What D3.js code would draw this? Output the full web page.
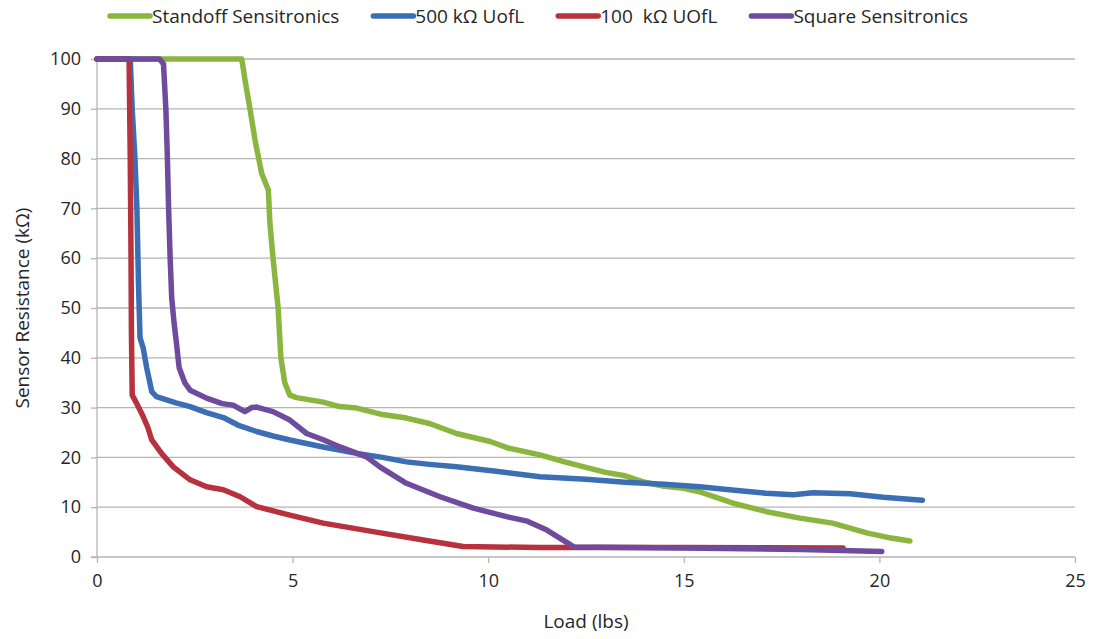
<!DOCTYPE html>
<html>
<head>
<meta charset="utf-8">
<script src="https://cdn.jsdelivr.net/npm/d3@7/dist/d3.min.js"></script>
<style>
  html, body { margin: 0; padding: 0; background: #fff; }
  svg { display: block; font-family: "Open Sans", "Noto Sans", sans-serif; }
  text { white-space: pre; }
</style>
</head>
<body>
<svg id="chart" width="1094" height="639"></svg>
<script>
// ---- data ----
const seriesNames = ["Standoff Sensitronics", "500 kΩ UofL", "100  kΩ UOfL", "Square Sensitronics"];
const seriesColors = ["#8ab53f", "#3c6eb4", "#b7323c", "#6f4b9e"];

const standoffX = [0, 3.7, 3.8, 3.91, 4.04, 4.21, 4.38, 4.42, 4.5, 4.63, 4.7, 4.8, 4.93, 5.1, 5.78, 6.2, 6.64, 7.3, 7.91, 8.5, 9.19, 10.05, 10.5, 11.32, 12, 12.5, 13, 13.5, 14, 14.5, 15, 15.4, 16.26, 17.12, 17.97, 18.8, 19.7, 20.3, 20.78];
const standoffY = [100, 100, 95, 90, 83.7, 77, 73.7, 67, 60, 50, 40, 35, 32.5, 32, 31.1, 30.2, 29.9, 28.6, 27.9, 26.8, 24.8, 23.2, 21.9, 20.5, 19, 18, 17, 16.3, 15, 14.2, 13.8, 13.1, 10.8, 9.1, 7.8, 6.8, 4.8, 3.8, 3.2];

const uofl500X = [0, 0.85, 0.9, 0.97, 1.02, 1.06, 1.1, 1.18, 1.27, 1.4, 1.52, 2.0, 2.38, 2.8, 3.23, 3.6, 4.08, 4.5, 4.93, 5.78, 6.64, 7.3, 7.91, 8.5, 9.19, 10.2, 11.32, 12.5, 13.5, 14.5, 15.4, 16.3, 17.1, 17.8, 18.3, 19.25, 20.1, 21.1];
const uofl500Y = [100, 100, 90, 80, 70, 55, 44, 42, 38, 33.2, 32.2, 31, 30.2, 29, 28, 26.5, 25.2, 24.3, 23.5, 22.1, 20.8, 20, 19.1, 18.6, 18.1, 17.2, 16.1, 15.6, 15, 14.6, 14.1, 13.4, 12.8, 12.5, 12.9, 12.7, 12, 11.4];

const uofl100X = [0, 0.82, 0.85, 0.87, 0.88, 0.9, 1.01, 1.18, 1.3, 1.4, 1.65, 1.95, 2.38, 2.8, 3.23, 3.66, 4.08, 4.93, 5.78, 7.06, 8.34, 9.36, 11.32, 15, 19.07];
const uofl100Y = [100, 100, 80, 60, 45, 32.5, 30.9, 28.2, 26, 23.5, 20.8, 18.1, 15.5, 14.1, 13.5, 12.1, 10.1, 8.4, 6.8, 5.1, 3.4, 2.1, 1.9, 1.9, 1.8];

const squareX = [0, 1.6, 1.7, 1.76, 1.8, 1.83, 1.87, 1.91, 1.97, 2.03, 2.1, 2.25, 2.38, 2.8, 3.2, 3.48, 3.78, 3.95, 4.08, 4.5, 4.93, 5.36, 5.8, 6.21, 6.89, 7.23, 7.91, 8.77, 9.62, 10.47, 11.0, 11.5, 12.2, 15, 18, 20.06];
const squareY = [100, 100, 99, 90, 80, 70, 60, 52, 47, 43, 38, 34.9, 33.5, 31.9, 30.8, 30.5, 29.2, 30, 30.1, 29.2, 27.5, 24.8, 23.5, 22.1, 20.1, 18.1, 14.8, 12.1, 9.8, 8.1, 7.2, 5.4, 2, 1.8, 1.5, 1.1];

const xTicks = [0, 5, 10, 15, 20, 25];
const yTicks = [0, 10, 20, 30, 40, 50, 60, 70, 80, 90, 100];
const xTitle = "Load (lbs)";
const yTitle = "Sensor Resistance (kΩ)";

// ---- layout ----
const svg = d3.select("#chart");
const mLeft = 97, mRight = 1075, mTop = 59, mBottom = 557;
const x = d3.scaleLinear().domain([0, 25]).range([mLeft, mRight]);
const y = d3.scaleLinear().domain([0, 100]).range([mBottom, mTop]);
const gridColor = "#b5b5b5";
const textColor = "#262626";

// gridlines
svg.append("g").selectAll("line").data(yTicks.filter(d => d > 0)).join("line")
  .attr("x1", mLeft).attr("x2", mRight)
  .attr("y1", d => y(d)).attr("y2", d => y(d))
  .attr("stroke", gridColor).attr("stroke-width", 1.3);

// y axis
const yAxis = svg.append("g").attr("transform", `translate(${mLeft},0)`)
  .call(d3.axisLeft(y).tickValues(yTicks).tickSize(6).tickPadding(10));
yAxis.select(".domain").attr("stroke", gridColor).attr("stroke-width", 1.3).attr("d", `M0,${mTop}V${mBottom}`);
yAxis.selectAll(".tick line").attr("stroke", gridColor).attr("stroke-width", 1.3);
yAxis.selectAll(".tick text").attr("font-size", 18).attr("fill", textColor).attr("font-family", "Open Sans");

// x axis
const xAxis = svg.append("g").attr("transform", `translate(0,${mBottom})`)
  .call(d3.axisBottom(x).tickValues(xTicks).tickSize(6).tickPadding(11));
xAxis.select(".domain").attr("stroke", gridColor).attr("stroke-width", 1.3).attr("d", `M${mLeft - 6},0H${mRight}`);
xAxis.selectAll(".tick line").attr("stroke", gridColor).attr("stroke-width", 1.3);
xAxis.selectAll(".tick text").attr("font-size", 18).attr("fill", textColor).attr("font-family", "Open Sans");

// titles
svg.append("text").attr("x", (mLeft + mRight) / 2).attr("y", 628)
  .attr("text-anchor", "middle").attr("font-size", 19).attr("fill", textColor).text(xTitle);
svg.append("text").attr("transform", `translate(29,${(mTop + mBottom) / 2}) rotate(-90)`)
  .attr("text-anchor", "middle").attr("font-size", 19).attr("fill", textColor).text(yTitle);

// lines
const series = [
  {xs: standoffX, ys: standoffY},
  {xs: uofl500X, ys: uofl500Y},
  {xs: uofl100X, ys: uofl100Y},
  {xs: squareX, ys: squareY}
];
const lineGen = d3.line().x(d => x(d[0])).y(d => y(d[1]));
series.forEach((s, i) => {
  const pts = s.xs.map((v, k) => [v, s.ys[k]]);
  svg.append("path").datum(pts)
    .attr("d", lineGen)
    .attr("fill", "none").attr("stroke", seriesColors[i])
    .attr("stroke-width", 5.5).attr("stroke-linejoin", "round").attr("stroke-linecap", "round");
});

// legend
const legend = svg.append("g");
let lx = 110;
seriesNames.forEach((name, i) => {
  legend.append("line").attr("x1", lx).attr("x2", lx + 40).attr("y1", 16).attr("y2", 16)
    .attr("stroke", seriesColors[i]).attr("stroke-width", 5.5).attr("stroke-linecap", "round");
  const t = legend.append("text").attr("x", lx + 42).attr("y", 23)
    .attr("font-size", 19).attr("fill", textColor).text(name);
  lx = lx + 42 + t.node().getComputedTextLength() + 34;
});
</script>
</body>
</html>
